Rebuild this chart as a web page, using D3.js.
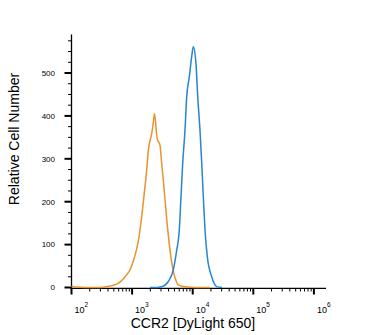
<!DOCTYPE html>
<html>
<head>
<meta charset="utf-8">
<script src="https://cdn.jsdelivr.net/npm/d3@7"></script>
<style>
  html, body { margin: 0; padding: 0; background: #fff; }
  svg { display: block; }
</style>
</head>
<body>
<svg id="chart" width="371" height="335"></svg>
<script>
// Isotype control histogram (fluorescence intensity vs. count)
const controlIntensity = [100, 114, 166, 244, 381, 557, 716, 815, 923, 1047, 1117, 1265, 1439, 1589, 1742, 1849, 1923, 2104, 2239, 2344, 2547, 2606, 2884, 3076, 3273, 3724, 4217, 4786, 5445, 5781, 7962, 10965, 19275];
const controlCount     = [3, 1, 0, 0, 2, 8, 20, 30, 41, 62, 75, 108, 165, 220, 274, 318, 335, 358, 385, 405, 355, 346, 332, 290, 250, 160, 87, 38, 12, 6, 1, 0, 0];

// CCR2-stained histogram
const stainedIntensity = [1972, 2239, 3076, 3954, 4786, 5445, 6012, 6412, 6839, 7464, 7962, 8790, 9616, 10233, 11324, 12106, 13183, 14093, 14962, 15959, 17418, 20606, 24889, 30409];
const stainedCount     = [0, 0, 2, 14, 41, 87, 134, 212, 290, 367, 445, 491, 538, 561, 522, 445, 367, 290, 212, 134, 72, 25, 2, 0];

const yMajorTicks = [0, 100, 200, 300, 400, 500];
const xDecades = [2, 3, 4, 5, 6];
const xTitle = "CCR2 [DyLight 650]";
const yTitle = "Relative Cell Number";

const svg = d3.select("#chart");
const font = "Liberation Sans, Arial, sans-serif";

const x = d3.scaleLog().domain([100, Math.pow(10, 6.2)]).range([71.5, 71.5 + 60.6 * 4.2]);
const y = d3.scaleLinear().domain([0, 590]).range([287.5, 34.4]);

const axisColor = "#000";

// Y axis line
svg.append("line")
  .attr("x1", x.range()[0]).attr("x2", x.range()[0])
  .attr("y1", y(590)).attr("y2", y(0) + 1)
  .attr("stroke", axisColor).attr("stroke-width", 1.3);

// Y minor ticks every 25
const yMinor = d3.range(0, 576, 25).filter(v => v % 100 !== 0);
svg.selectAll(".ymin").data(yMinor).enter().append("line")
  .attr("x1", x.range()[0] - 3.5).attr("x2", x.range()[0])
  .attr("y1", d => y(d)).attr("y2", d => y(d))
  .attr("stroke", axisColor).attr("stroke-width", 1);

svg.selectAll(".ymaj").data(yMajorTicks).enter().append("line")
  .attr("x1", x.range()[0] - 7).attr("x2", x.range()[0])
  .attr("y1", d => y(d)).attr("y2", d => y(d))
  .attr("stroke", axisColor).attr("stroke-width", 2);

svg.selectAll(".ylab").data(yMajorTicks).enter().append("text")
  .attr("x", 55).attr("y", d => y(d) + 2.8)
  .attr("text-anchor", "end")
  .attr("font-family", font).attr("font-size", 8)
  .text(d => d);

// X axis line
svg.append("line")
  .attr("x1", x.range()[0] - 1).attr("x2", x.range()[1])
  .attr("y1", y(0) + 0.8).attr("y2", y(0) + 0.8)
  .attr("stroke", axisColor).attr("stroke-width", 1.3);

const xMinor = [];
xDecades.slice(0, -1).forEach(e => { for (let m = 2; m <= 9; m++) xMinor.push(m * Math.pow(10, e)); });
svg.selectAll(".xmin").data(xMinor).enter().append("line")
  .attr("x1", d => x(d)).attr("x2", d => x(d))
  .attr("y1", y(0) + 0.8).attr("y2", y(0) + 4)
  .attr("stroke", axisColor).attr("stroke-width", 1);

svg.selectAll(".xmaj").data(xDecades).enter().append("line")
  .attr("x1", d => x(Math.pow(10, d))).attr("x2", d => x(Math.pow(10, d)))
  .attr("y1", y(0) + 0.8).attr("y2", y(0) + 7)
  .attr("stroke", axisColor).attr("stroke-width", 2);

const xl = svg.selectAll(".xlab").data(xDecades).enter().append("text")
  .attr("x", d => x(Math.pow(10, d)) + 3)
  .attr("y", 313)
  .attr("font-family", font).attr("font-size", 9);
xl.append("tspan").text("10");
xl.append("tspan").attr("dy", -6).attr("font-size", 6.5).text(d => d);

// Titles
svg.append("text")
  .attr("x", 193).attr("y", 327.5)
  .attr("text-anchor", "middle")
  .attr("font-family", font).attr("font-size", 14)
  .text(xTitle);

svg.append("text")
  .attr("transform", "translate(19,139) rotate(-90)")
  .attr("text-anchor", "middle")
  .attr("font-family", font).attr("font-size", 14)
  .text(yTitle);

// Histograms
const line = d3.line()
  .x(d => x(d[0]))
  .y(d => y(d[1]))
  .curve(d3.curveMonotoneX);

svg.append("path")
  .datum(d3.zip(controlIntensity, controlCount))
  .attr("d", line)
  .attr("fill", "none").attr("stroke", "#EA932C").attr("stroke-width", 1.5);

svg.append("path")
  .datum(d3.zip(stainedIntensity, stainedCount))
  .attr("d", line)
  .attr("fill", "none").attr("stroke", "#2784D6").attr("stroke-width", 1.5);
</script>
</body>
</html>
